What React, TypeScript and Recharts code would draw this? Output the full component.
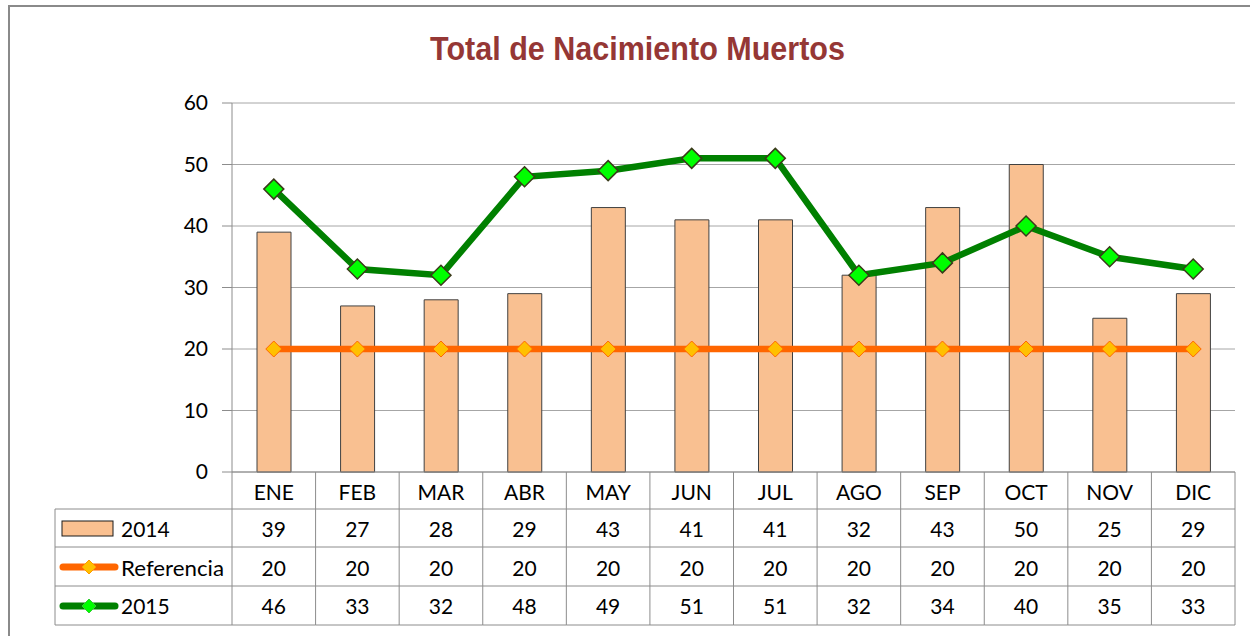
import React from 'react';
import { ComposedChart, Bar, Line, XAxis, YAxis, CartesianGrid } from 'recharts';

const categories = ['ENE', 'FEB', 'MAR', 'ABR', 'MAY', 'JUN', 'JUL', 'AGO', 'SEP', 'OCT', 'NOV', 'DIC'];
const values2014 = [39, 27, 28, 29, 43, 41, 41, 32, 43, 50, 25, 29];
const valuesRef = [20, 20, 20, 20, 20, 20, 20, 20, 20, 20, 20, 20];
const values2015 = [46, 33, 32, 48, 49, 51, 51, 32, 34, 40, 35, 33];
const yTicks = [0, 10, 20, 30, 40, 50, 60];
const seriesNames = ['2014', 'Referencia', '2015'];
const title = 'Total de Nacimiento Muertos';

const data = categories.map((c, i) => ({
  cat: c,
  v2014: values2014[i],
  vRef: valuesRef[i],
  v2015: values2015[i],
}));

const W = 1250;
const H = 636;
const M_TOP = 103;
const M_RIGHT = 15;
const Y_W = 232;
const X_H = 164;
const BW = (W - M_RIGHT - Y_W) / categories.length;
const FONT = 'Lato, "Open Sans", sans-serif';
const FS = 21;
const GRID = '#8C8C8C';
const ROWS = [491, 528, 567, 605];
const LINES_Y = [509, 547, 586, 625];
const LEFT_X = 55;

const Diamond = (r: number, fill: string, stroke: string, sw: number) => (props: any) => {
  const { cx, cy, index } = props;
  if (cx == null || cy == null) return <g key={`d-${index}`} />;
  return (
    <polygon
      key={`d-${index}`}
      points={`${cx},${cy - r} ${cx + r},${cy} ${cx},${cy + r} ${cx - r},${cy}`}
      fill={fill}
      stroke={stroke}
      strokeWidth={sw}
    />
  );
};

const TableTick = (props: any) => {
  const { x, y, payload } = props;
  const i: number = payload?.index ?? props.index ?? 0;
  const left = x - BW / 2;
  const right = x + BW / 2;
  const top = y;
  const vals = [categories[i], values2014[i], valuesRef[i], values2015[i]];
  return (
    <g>
      <line x1={left} y1={top} x2={left} y2={LINES_Y[3]} stroke={GRID} strokeWidth={1} />
      {i === categories.length - 1 && (
        <line x1={right} y1={top} x2={right} y2={LINES_Y[3]} stroke={GRID} strokeWidth={1} />
      )}
      {LINES_Y.map((ly, k) => (
        <line key={k} x1={left} y1={ly} x2={right} y2={ly} stroke={GRID} strokeWidth={1} />
      ))}
      {vals.map((v, k) => (
        <text
          key={k}
          x={x}
          y={ROWS[k]}
          textAnchor="middle"
          dominantBaseline="central"
          fontFamily={FONT}
          fontSize={FS}
          fill="#000"
        >
          {v}
        </text>
      ))}
      {i === 0 && (
        <g>
          {LINES_Y.map((ly, k) => (
            <line key={`l${k}`} x1={LEFT_X} y1={ly} x2={left} y2={ly} stroke={GRID} strokeWidth={1} />
          ))}
          <line x1={LEFT_X} y1={LINES_Y[0]} x2={LEFT_X} y2={LINES_Y[3]} stroke={GRID} strokeWidth={1} />
          <rect x={62} y={521} width={51} height={15} fill="#FAC090" stroke="#1a1a1a" strokeWidth={1} />
          <line x1={63} y1={567} x2={115} y2={567} stroke="#FF6600" strokeWidth={7} strokeLinecap="round" />
          <polygon points="89,560 96,567 89,574 82,567" fill="#FFC000" stroke="#FF9900" strokeWidth={1} />
          <line x1={63} y1={606} x2={115} y2={606} stroke="#008000" strokeWidth={7} strokeLinecap="round" />
          <polygon points="89,599 96,606 89,613 82,606" fill="#00FF00" stroke="#33CC33" strokeWidth={1} />
          {seriesNames.map((n, k) => (
            <text
              key={`n${k}`}
              x={121}
              y={ROWS[k + 1]}
              dominantBaseline="central"
              fontFamily={FONT}
              fontSize={FS}
              fill="#000"
              textLength={k === 1 ? 103 : undefined}
              lengthAdjust="spacingAndGlyphs"
            >
              {n}
            </text>
          ))}
        </g>
      )}
    </g>
  );
};

export default function App() {
  return (
    <div style={{ position: 'absolute', left: 0, top: 0, width: W, height: H, background: '#fff', overflow: 'hidden' }}>
      <div
        style={{
          position: 'absolute',
          left: 8,
          top: 5,
          width: W,
          height: H + 20,
          border: '2.5px solid #8A8A8A',
          boxSizing: 'border-box',
        }}
      />
      <ComposedChart
        width={W}
        height={H}
        data={data}
        margin={{ top: M_TOP, right: M_RIGHT, left: 0, bottom: 0 }}
        style={{ position: 'absolute', left: 0, top: 0 }}
      >
        <CartesianGrid vertical={false} stroke="#A6A6A6" strokeWidth={1} />
        <XAxis
          dataKey="cat"
          height={X_H}
          interval={0}
          tickLine={false}
          tickSize={0}
          tickMargin={0}
          axisLine={{ stroke: GRID }}
          tick={<TableTick />}
        />
        <YAxis
          width={Y_W}
          domain={[0, 60]}
          ticks={yTicks}
          interval={0}
          tickSize={10}
          tickMargin={14}
          axisLine={{ stroke: GRID }}
          tickLine={{ stroke: GRID }}
          tick={{ fontFamily: FONT, fontSize: FS, fill: '#000' }}
        />
        <Bar dataKey="v2014" fill="#F9C091" stroke="#404040" strokeWidth={1} barSize={34} isAnimationActive={false} />
        <Line
          type="linear"
          dataKey="vRef"
          stroke="#FF6600"
          strokeWidth={6.5}
          dot={Diamond(8, '#FFC000', '#FF6600', 1)}
          activeDot={false}
          isAnimationActive={false}
        />
        <Line
          type="linear"
          dataKey="v2015"
          stroke="#008000"
          strokeWidth={6.5}
          dot={Diamond(10, '#00FF00', '#3A3A1A', 1.5)}
          activeDot={false}
          isAnimationActive={false}
        />
      </ComposedChart>
      <svg width={W} height={90} style={{ position: 'absolute', left: 0, top: 0, pointerEvents: 'none' }}>
        <text
          x={637.5}
          y={48}
          textAnchor="middle"
          dominantBaseline="central"
          fontFamily='"Liberation Sans Narrow", "Liberation Sans", Arial, sans-serif'
          fontWeight="bold"
          fontSize={33}
          fill="#953735"
          textLength={415}
          lengthAdjust="spacingAndGlyphs"
        >
          {title}
        </text>
      </svg>
    </div>
  );
}
